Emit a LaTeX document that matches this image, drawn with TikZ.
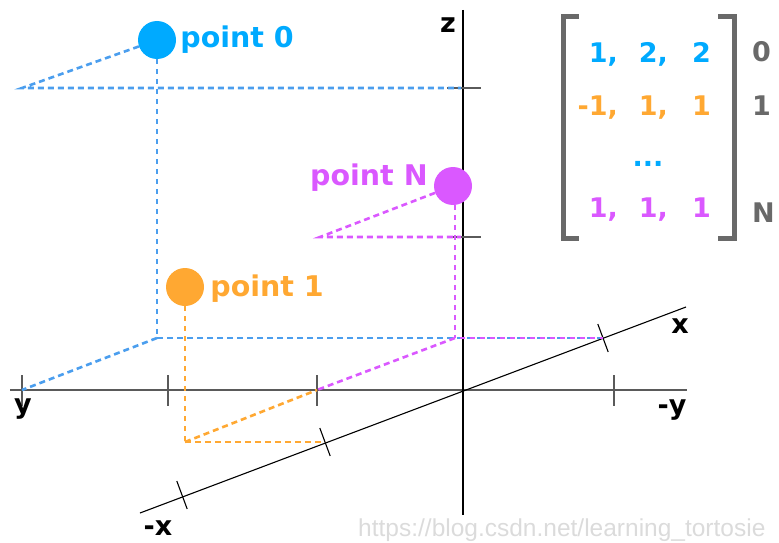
\documentclass[tikz,border=0pt]{standalone}
\usepackage{fontspec}
\setmainfont{DejaVu Sans}
\newfontfamily\wmfont{Liberation Sans}
\usetikzlibrary{positioning}

\definecolor{ptblue}{RGB}{0,170,255}
\definecolor{lnblue}{RGB}{75,158,238}
\definecolor{ptorange}{RGB}{255,168,50}
\definecolor{ptmagenta}{RGB}{218,88,255}
\definecolor{axgray}{RGB}{90,90,90}
\definecolor{brgray}{RGB}{105,105,105}

\begin{document}
\begin{tikzpicture}[
  x=1pt, y=-1pt,
  font=\bfseries\fontsize{27}{32}\selectfont,
  node distance=4pt,
  dot/.style={circle, minimum size=38pt, inner sep=0pt},
  lbl/.style={inner sep=0pt},
  ptlbl/.style={inner sep=0pt, font=\bfseries\fontsize{28.5}{33}\selectfont},
  entry/.style={inner sep=0pt, anchor=base east},
  axis/.style={black, line width=1.3pt},
  yaxis/.style={axgray, line width=1.8pt},
  tickmark/.style={axgray, line width=1.5pt},
  proj/.style={line width=2.6pt, dash pattern=on 6pt off 4pt},
  bracket/.style={brgray, line width=5pt}
]
\useasboundingbox (0,0) rectangle (779,543);

% axes
\coordinate (O) at (463,390);
\coordinate (yL) at (10,390);
\coordinate (yR) at (687,390);
\coordinate (zT) at (463,10);
\coordinate (zB) at (463,515);
\coordinate (xA) at (140,513);
\coordinate (xB) at (686,307);
\draw[yaxis] (yL) -- (yR);
\draw[axis] (zT) -- (zB);
\draw[axis, line width=1.1pt] (xA) -- (xB);

\foreach \t in {22,168,317,614}
  \draw[tickmark] (\t,375) -- (\t,406);
\foreach \t in {88,237}
  \draw[tickmark] (447,\t) -- (481,\t);
\foreach \p in {{(603,338)},{(325,442)},{(182,495)}}
  \draw[axis, line width=1.1pt] \p ++(-5.2,-14) -- ++(10.4,28);

\node[lbl] (zl) at (448,25) {z};
\node[lbl] (xl) at (680,326) {x};
\node[lbl] (mxl) at (158,528) {-x};
\node[lbl, anchor=base] (yl) at (23,413) {y};
\node[lbl, anchor=base] (myl) at (672,414) {-y};

% points
\node[dot, fill=ptblue] (p0) at (157,40) {};
\node[dot, fill=ptorange] (p1) at (185,287) {};
\node[dot, fill=ptmagenta] (pN) at (453,186) {};
\node[ptlbl, text=ptblue, right=of p0] (l0) {point 0};
\node[ptlbl, text=ptorange, right=6pt of p1, yshift=-2pt] (l1) {point 1};
\node[ptlbl, text=ptmagenta, left=6pt of pN, yshift=8pt] (lN) {point N};

% projections
\coordinate (a0) at (22,88);
\coordinate (z2) at (461,88);
\coordinate (g0) at (157,338);
\coordinate (x1) at (603,338);
\coordinate (y3) at (22,390);
\coordinate (g1) at (185,442);
\coordinate (xm1) at (325,442);
\coordinate (y1) at (317,390);
\coordinate (aN) at (320,237);
\coordinate (z1) at (461,237);
\coordinate (gN) at (455,338);

\draw[proj, lnblue] (p0) -- (a0) -- (z2);
\draw[proj, lnblue, dash pattern=on 5pt off 5pt] (p0) -- (g0);
\draw[proj, lnblue] (g0) -- (x1);
\draw[proj, lnblue] (g0) -- (y3);
\draw[proj, ptorange, dash pattern=on 5pt off 5pt] (p1) -- (g1);
\draw[proj, ptorange] (g1) -- (xm1);
\draw[proj, ptorange] (g1) -- (y1);
\draw[proj, ptmagenta] (pN) -- (aN) -- (z1);
\draw[proj, ptmagenta, dash pattern=on 5pt off 5pt] (gN |- pN.south) -- (gN);
\draw[proj, ptmagenta, dash pattern=on 5pt off 5pt, dash phase=5pt] (gN) -- (x1);
\draw[proj, ptmagenta] (gN) -- (y1);

% matrix
\draw[bracket] (579,17) -- (563,17) -- (563,238) -- (579,238);
\draw[bracket] (718,17) -- (734,17) -- (734,238) -- (718,238);

\node[entry, text=ptblue] (m0a) at (618,63) {1,};
\node[entry, text=ptblue] (m0b) at (668,63) {2,};
\node[entry, text=ptblue] (m0c) at (711,63) {2};
\node[entry, text=ptorange] (m1a) at (618,115) {-1,};
\node[entry, text=ptorange] (m1b) at (668,115) {1,};
\node[entry, text=ptorange] (m1c) at (711,115) {1};
\node[lbl, text=ptblue, anchor=base] (mdots) at (648,166) {...};
\node[entry, text=ptmagenta] (mNa) at (618,217) {1,};
\node[entry, text=ptmagenta] (mNb) at (668,217) {1,};
\node[entry, text=ptmagenta] (mNc) at (711,217) {1};

\node[lbl, text=brgray, anchor=base west] (r0) at (752,62) {0};
\node[lbl, text=brgray, anchor=base west] (r1) at (752,115) {1};
\node[lbl, text=brgray, anchor=base west] (rN) at (752,222) {N};

\node[lbl, anchor=base west, text=black!14, font=\wmfont\fontsize{24.5}{28}\selectfont]
  (wm) at (358,536) {https://blog.csdn.net/learning\_tortosie};
\end{tikzpicture}
\end{document}
